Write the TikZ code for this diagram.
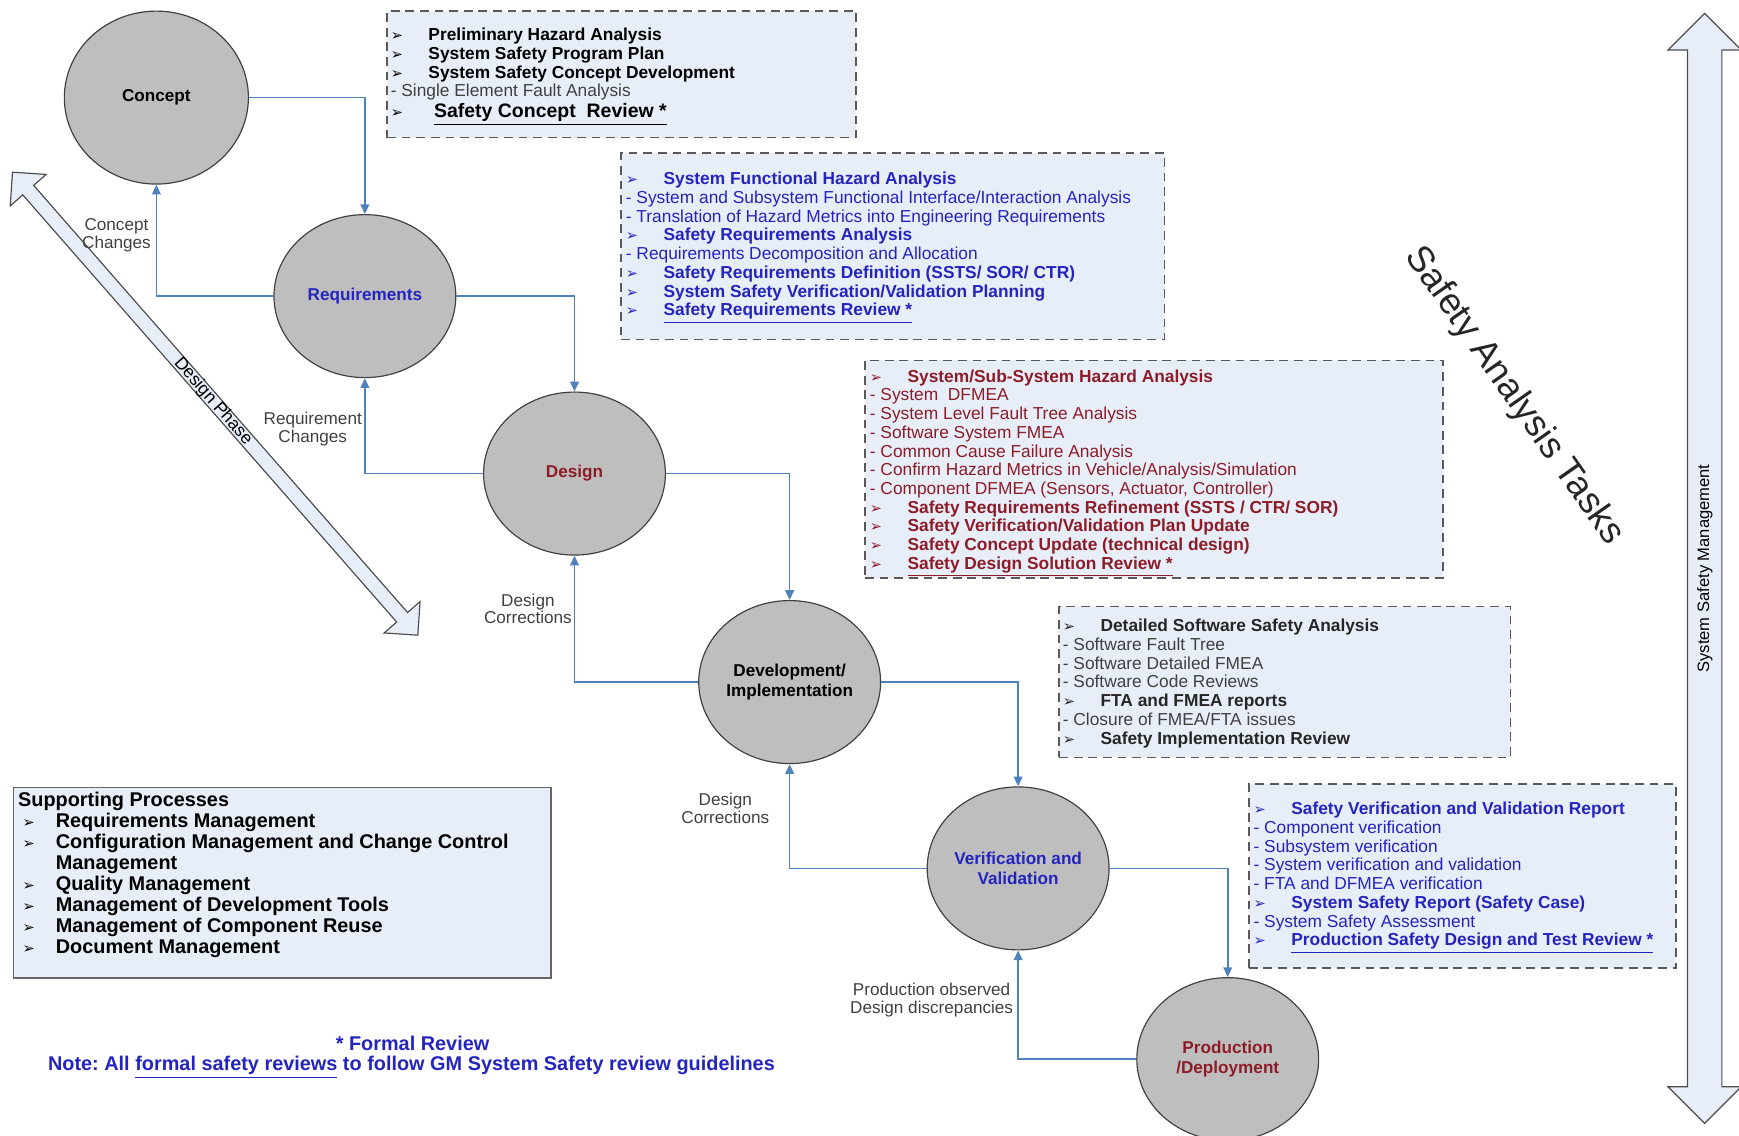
\documentclass[tikz,border=0pt]{standalone}
\usepackage{fontspec}
\setmainfont{Liberation Sans}
\newfontfamily\symfont{DejaVu Sans}
\usepackage{xcolor}
\usetikzlibrary{arrows.meta, shapes.geometric, shapes.arrows, fit, positioning}
\frenchspacing

\definecolor{flowblue}{RGB}{79,129,189}
\definecolor{txtblue}{RGB}{36,36,190}
\definecolor{txtred}{RGB}{140,28,40}
\definecolor{boxfill}{RGB}{232,238,248}
\definecolor{phasegray}{RGB}{190,190,190}
\definecolor{labelgray}{RGB}{64,64,64}

\newcommand{\boxfont}{\fontsize{8.9}{9.6}\selectfont}
\newcommand{\bul}{{\symfont\fontsize{7.5}{7.5}\selectfont ➢}}
\newcommand{\itm}[1]{\makebox[0.68cm][l]{\bul}\textbf{#1}}
\newcommand{\sitm}[1]{\hspace*{0.08cm}\makebox[0.6cm][l]{\bul}\textbf{#1}}

\begin{document}
\begin{tikzpicture}[x=0.02cm, y=-0.02cm,
                        phase/.style={ellipse, draw=black!75, line width=0.6pt, fill=phasegray, inner sep=0pt, minimum width=3.28cm, minimum height=2.94cm, align=center, font=\bfseries\fontsize{8.8}{10.2}\selectfont},
                        flow/.style={draw=flowblue, line width=0.8pt, -{Triangle[length=5pt, width=4.5pt]}},
                        taskbox/.style={draw=black!65, dash pattern=on 4.5pt off 3pt, line width=0.8pt, fill=boxfill, inner sep=0pt},
                        tasktext/.style={anchor=north west, align=left, inner sep=0pt, font=\boxfont},
                        note/.style={align=center, inner sep=0pt, text=labelgray, font=\fontsize{8.8}{9.2}\selectfont},
                        bigarrow/.style={double arrow, draw=black!70, fill=boxfill, line width=0.6pt, inner xsep=0pt}]
                        \useasboundingbox (0, 0) rectangle (1568, 1024);

                        \node[bigarrow, rotate=-48.8, minimum height=11.1cm, double arrow head extend=0.3cm, inner ysep=0.12cm, text height=0pt, text depth=0pt] (dphase) at (194, 364) {};
                        \node[rotate=-48.8, inner sep=0pt, font=\fontsize{9}{9}\selectfont] (dphaselbl) at (192, 362) {Design Phase};
                        \node[bigarrow, rotate=90, minimum height=20.02cm, double arrow head extend=0.35cm, inner ysep=0.17cm, text height=0.21cm, text depth=0.05cm, font=\fontsize{8.5}{8.5}\selectfont] (ssm) at (1537, 512.5) {System Safety Management};
                        \node[rotate=-55, inner sep=0pt, text=black!85, font=\fontsize{18.8}{20}\selectfont] (sat) at (1365, 357) {Safety Analysis Tasks};

                        \node[taskbox, fit={(349, 10) (772, 124)}] (phabox) {};
                        \node[taskbox, fit={(560, 138) (1050, 306)}] (reqbox) {};
                        \node[taskbox, fit={(780, 325) (1301, 521)}] (desbox) {};
                        \node[taskbox, fit={(955, 547) (1362, 683)}] (devbox) {};
                        \node[taskbox, fit={(1126, 707) (1511, 873)}] (vvbox) {};
                        \node[draw=black!60, line width=0.8pt, fill=boxfill, inner sep=0pt, fit={(12, 710) (497, 882)}] (supbox) {};

                        \node[tasktext] (phatxt) at (352, 25) {\itm{Preliminary Hazard Analysis}\\
                            \itm{System Safety Program Plan}\\
                            \itm{System Safety Concept Development}\\
                            {\color{labelgray}- Single Element Fault Analysis}\\[1pt]
                            \makebox[0.78cm][l]{\bul}{\fontsize{10}{11}\selectfont\bfseries\underline{Safety Concept\ \ Review *}}};
                        \node[tasktext, text=txtblue] (reqtxt) at (564, 155) {\itm{System Functional Hazard Analysis}\\
                            - System and Subsystem Functional Interface/Interaction Analysis\\
                            - Translation of Hazard Metrics into Engineering Requirements\\
                            \itm{Safety Requirements Analysis}\\
                            - Requirements Decomposition and Allocation\\
                            \itm{Safety Requirements Definition (SSTS/ SOR/ CTR)}\\
                            \itm{System Safety Verification/Validation Planning}\\
                            \itm{\underline{Safety Requirements Review *}}};
                        \node[tasktext, text=txtred] (destxt) at (784, 333) {\itm{System/Sub-System Hazard Analysis}\\
                            - System\ \ DFMEA\\
                            - System Level Fault Tree Analysis\\
                            - Software System FMEA\\
                            - Common Cause Failure Analysis\\
                            - Confirm Hazard Metrics in Vehicle/Analysis/Simulation\\
                            - Component DFMEA (Sensors, Actuator, Controller)\\
                            \itm{Safety Requirements Refinement (SSTS / CTR/ SOR)}\\
                            \itm{Safety Verification/Validation Plan Update}\\
                            \itm{Safety Concept Update (technical design)}\\
                            \itm{\underline{Safety Design Solution Review *}}};
                        \node[tasktext, text=black!85] (devtxt) at (958, 558) {\itm{Detailed Software Safety Analysis}\\
                            {\color{labelgray}- Software Fault Tree}\\
                            {\color{labelgray}- Software Detailed FMEA}\\
                            {\color{labelgray}- Software Code Reviews}\\
                            \itm{FTA and FMEA reports}\\
                            {\color{labelgray}- Closure of FMEA/FTA issues}\\
                            \itm{Safety Implementation Review}};
                        \node[tasktext, text=txtblue] (vvtxt) at (1130, 723) {\itm{Safety Verification and Validation Report}\\
                            - Component verification\\
                            - Subsystem verification\\
                            - System verification and validation\\
                            - FTA and DFMEA verification\\
                            \itm{System Safety Report (Safety Case)}\\
                            - System Safety Assessment\\
                            \itm{\underline{Production Safety Design and Test Review *}}};
                        \node[tasktext, font=\fontsize{10.2}{10.8}\selectfont] (suptxt) at (16, 714) {\textbf{Supporting Processes}\\
                            \sitm{Requirements Management}\\
                            \sitm{Configuration Management and Change Control}\\
                            \hspace*{0.68cm}\textbf{Management}\\
                            \sitm{Quality Management}\\
                            \sitm{Management of Development Tools}\\
                            \sitm{Management of Component Reuse}\\
                            \sitm{Document Management}};

                        \node[phase, minimum width=3.32cm, minimum height=3.12cm] (concept) at (141, 88) {Concept};
                        \node[phase, text=txtblue] (req) at (329, 267) {Requirements};
                        \node[phase, text=txtred] (design) at (518, 427) {Design};
                        \node[phase] (dev) at (712, 615) {Development/\\Implementation};
                        \node[phase, text=txtblue] (vv) at (918, 783) {Verification and\\Validation};
                        \node[phase, text=txtred] (prod) at (1107, 955) {Production\\/Deployment};

                        \draw[flow] (concept.east) -| (req.north);
                        \draw[flow] (req.west) -| (concept.south);
                        \draw[flow] (req.east) -| (design.north);
                        \draw[flow] (design.west) -| (req.south);
                        \draw[flow] (design.east) -| (dev.north);
                        \draw[flow] (dev.west) -| (design.south);
                        \draw[flow] (dev.east) -| (vv.north);
                        \draw[flow] (vv.west) -| (dev.south);
                        \draw[flow] (vv.east) -| (prod.north);
                        \draw[flow] (prod.west) -| (vv.south);

                        \node[note] (cchg) at (105, 212) {Concept\\Changes};
                        \node[note] (rchg) at (282, 387) {Requirement\\Changes};
                        \node[note] (dcor1) at (476, 549) {Design\\Corrections};
                        \node[note] (dcor2) at (654, 729) {Design\\Corrections};
                        \node[note] (pdisc) at (840, 902) {Production observed\\Design discrepancies};

                        \node[inner sep=0pt, text=txtblue, font=\bfseries\fontsize{10.2}{11}\selectfont] (formal) at (372, 941) {* Formal Review};
                        \node[inner sep=0pt, text=txtblue, font=\bfseries\fontsize{10.2}{11}\selectfont] (gmnote) at (371, 962) {Note: All \underline{formal safety reviews} to follow GM System Safety review guidelines};
                    \end{tikzpicture}
\end{document}
